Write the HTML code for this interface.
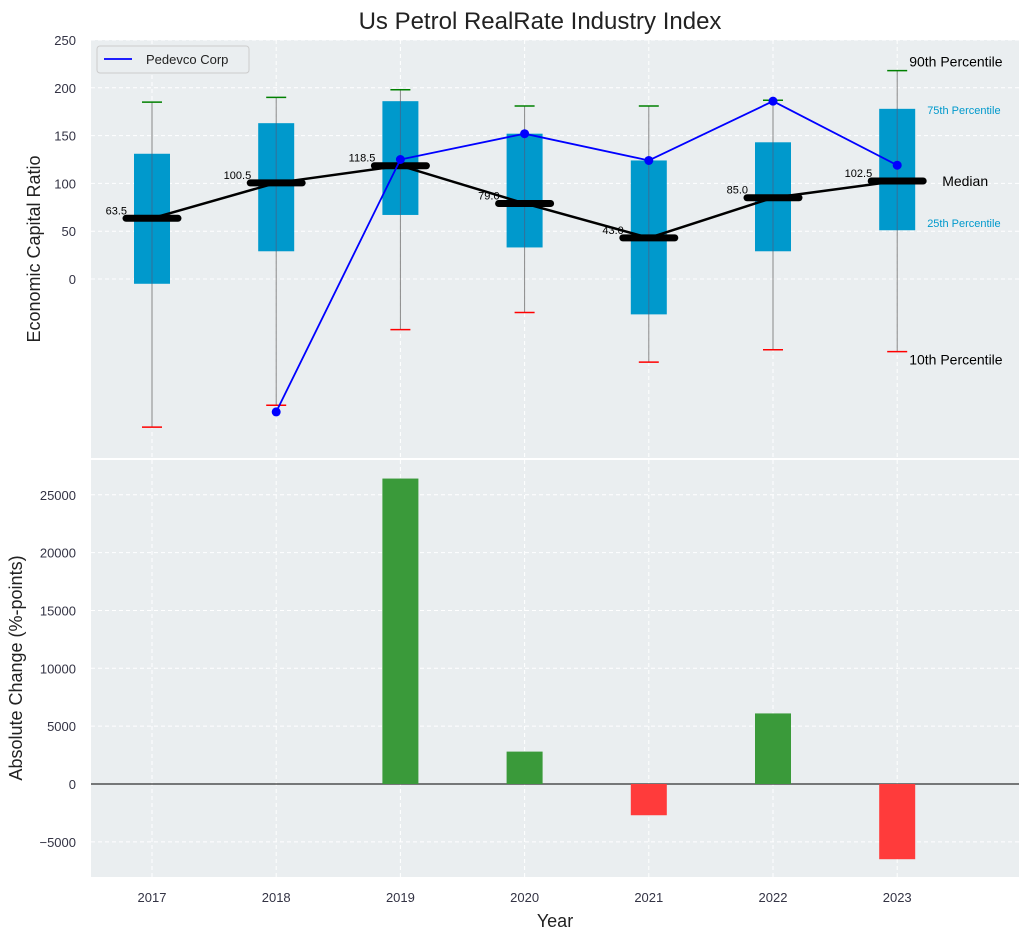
<!DOCTYPE html>
<html><head><meta charset="utf-8"><style>
body{margin:0;background:#fff;font-family:"Liberation Sans",sans-serif}
svg text{font-family:"Liberation Sans",sans-serif}
</style></head><body>
<svg id="chart" width="1030" height="940" xmlns="http://www.w3.org/2000/svg"></svg>
<script>
const years=[2017,2018,2019,2020,2021,2022,2023];
const p10=[-155,-132,-53,-35,-87,-74,-76];
const p25=[-5,29,67,33,-37,29,51];
const medians=[63.5,100.5,118.5,79.0,43.0,85.0,102.5];
const p75=[131,163,186,152,124,143,178];
const p90=[185,190,198,181,181,187,218];
const company=[null,-139,125,152,124,186,119];
const changes=[null,null,26400,2800,-2700,6100,-6500];
const topTicks=[0,50,100,150,200,250];
const botTicks=[-5000,0,5000,10000,15000,20000,25000];

const svg=document.getElementById('chart');
const NS='http://www.w3.org/2000/svg';
function el(tag,attrs,parent,text){const e=document.createElementNS(NS,tag);for(const k in attrs)e.setAttribute(k,attrs[k]);if(text!==undefined)e.textContent=text;(parent||svg).appendChild(e);return e;}
const X0=91,X1=1019;
const x=v=>152+(v-2017)*124.2;
const T0=40,T1=458;const yT=v=>279-v*0.956;
const B0=460,B1=877;const yB=v=>784-v*0.01157;

// panels
let g=el('rect',{x:X0,y:T0,width:X1-X0,height:T1-T0,fill:'#eaeef0'});

g=el('rect',{x:X0,y:B0,width:X1-X0,height:B1-B0,fill:'#eaeef0'});


// grids
topTicks.forEach(t=>{el('line',{x1:X0,x2:X1,y1:yT(t),y2:yT(t),stroke:'#fff','stroke-dasharray':'4,3'});
 const l=el('text',{x:76,y:yT(t)+5,'text-anchor':'end','font-size':13,fill:'#334'},null,t);
 });
botTicks.forEach(t=>{el('line',{x1:X0,x2:X1,y1:yB(t),y2:yB(t),stroke:'#fff','stroke-dasharray':'4,3'});
 const l=el('text',{x:76,y:yB(t)+5,'text-anchor':'end','font-size':13,fill:'#334'},null,String(t).replace('-','\u2212'));
 });
years.forEach(yr=>{
 el('line',{x1:x(yr),x2:x(yr),y1:T0,y2:T1,stroke:'#fff','stroke-dasharray':'4,3'});
 el('line',{x1:x(yr),x2:x(yr),y1:B0,y2:B1,stroke:'#fff','stroke-dasharray':'4,3'});
 const l=el('text',{x:x(yr),y:902,'text-anchor':'middle','font-size':13,fill:'#334'},null,yr);
 
});

// boxes
years.forEach((yr,i)=>{
 const cx=x(yr);
 const w=el('line',{x1:cx,x2:cx,y1:yT(p10[i]),y2:yT(p90[i]),stroke:'#888','stroke-width':1});
 
 const b=el('rect',{x:cx-18,y:yT(p75[i]),width:36,height:yT(p25[i])-yT(p75[i]),fill:'#0099cc'});
 
 el('line',{x1:cx,x2:cx,y1:yT(p75[i]),y2:yT(p25[i]),stroke:'#557','stroke-width':1,opacity:0.6});
 const c1=el('line',{x1:cx-10,x2:cx+10,y1:yT(p90[i]),y2:yT(p90[i]),stroke:'green','stroke-width':1.5});
 
 const c2=el('line',{x1:cx-10,x2:cx+10,y1:yT(p10[i]),y2:yT(p10[i]),stroke:'red','stroke-width':1.5});
 
});
// median line
let d=years.map((yr,i)=>(i?'L':'M')+x(yr)+','+yT(medians[i])).join(' ');
g=el('path',{d,fill:'none',stroke:'#000','stroke-width':2.5});

years.forEach((yr,i)=>{
 const m=el('line',{x1:x(yr)-26,x2:x(yr)+26,y1:yT(medians[i]),y2:yT(medians[i]),stroke:'#000','stroke-width':7,'stroke-linecap':'round'});
 
 const t=el('text',{x:x(yr)-25,y:yT(medians[i])-4,'text-anchor':'end','font-size':11,fill:'#000'},null,medians[i].toFixed(1));
 
});
// company line
const pts=years.map((yr,i)=>company[i]==null?null:[x(yr),yT(company[i])]).filter(p=>p);
g=el('path',{d:pts.map((p,i)=>(i?'L':'M')+p[0]+','+p[1]).join(' '),fill:'none',stroke:'blue','stroke-width':1.8});

pts.forEach(p=>{const c=el('circle',{cx:p[0],cy:p[1],r:4.5,fill:'blue'});
 });

// annotations
const li=years.length-1,ax=x(years[li]);
const ann=[['90th Percentile',ax+12,yT(p90[li])-4,14,'#000'],['75th Percentile',ax+30,yT(p75[li])+5,11,'#0099cc'],['Median',ax+45,yT(medians[li])+5,14,'#000'],['25th Percentile',ax+30,yT(p25[li])-3,11,'#0099cc'],['10th Percentile',ax+12,yT(p10[li])+13,14,'#000']];
ann.forEach(a=>{const t=el('text',{x:a[1],y:a[2],'font-size':a[3],fill:a[4]},null,a[0]);
 });

// legend
g=el('g',{});
el('rect',{x:97,y:46,width:152,height:27,fill:'#eaeef0',stroke:'#ccc',rx:3},g);
el('line',{x1:104,x2:132,y1:59,y2:59,stroke:'blue','stroke-width':1.8},g);
el('text',{x:146,y:64,'font-size':13,fill:'#222'},g,'Pedevco Corp');

// bars
el('line',{x1:X0,x2:X1,y1:yB(0),y2:yB(0),stroke:'#000','stroke-width':1});
years.forEach((yr,i)=>{if(changes[i]==null)return;const v=changes[i];
 const r=el('rect',{x:x(yr)-18,y:Math.min(yB(v),yB(0)),width:36,height:Math.abs(yB(v)-yB(0)),fill:v>=0?'#3a9a3a':'#ff3b3b'});
 });

// titles
g=el('text',{x:540,y:29,'text-anchor':'middle','font-size':24,fill:'#222'},null,'Us Petrol RealRate Industry Index');

g=el('text',{x:40,y:249,'text-anchor':'middle','font-size':18,fill:'#222',transform:'rotate(-90 40 249)'},null,'Economic Capital Ratio');

g=el('text',{x:22,y:668,'text-anchor':'middle','font-size':18,fill:'#222',transform:'rotate(-90 22 668)'},null,'Absolute Change (%-points)');

g=el('text',{x:555,y:927,'text-anchor':'middle','font-size':18,fill:'#222'},null,'Year');

</script>
</body></html>
